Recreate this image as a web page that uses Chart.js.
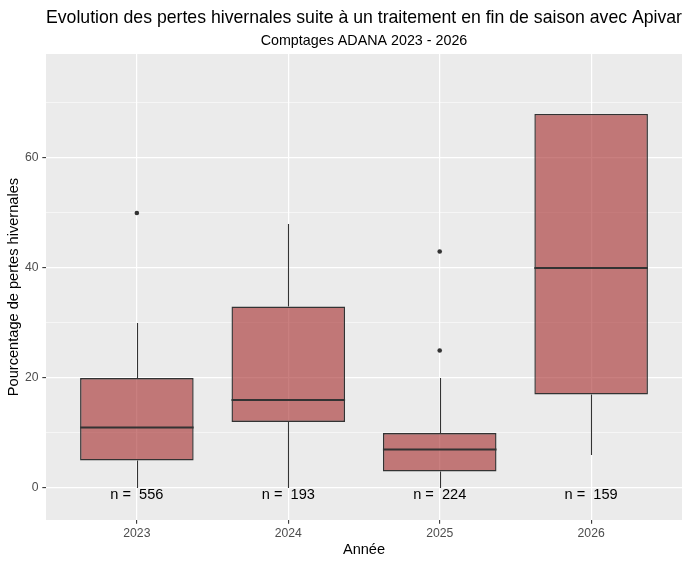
<!DOCTYPE html>
<html>
<head>
<meta charset="utf-8">
<script src="https://cdn.jsdelivr.net/npm/chart.js@4.4.1/dist/chart.umd.min.js"></script>
<style>
  html, body { margin: 0; padding: 0; background: #fff; }
</style>
</head>
<body>
<canvas id="boxChart" width="690" height="565"></canvas>
<script>
// values
const years = ['2023', '2024', '2025', '2026'];
const q1 = [5, 12, 3, 17];
const q3 = [20, 33, 10, 68];
const medians = [11, 16, 7, 40];
const whiskerLow = [0, 0, 0, 6];
const whiskerHigh = [30, 48, 20, 68];
const outlierYear = [0, 2, 2];
const outlierValue = [50, 25, 43];
const counts = [556, 193, 224, 159];
const countLabelY = -1.3;
const yTicks = [0, 20, 40, 60];

const FONT = '"Liberation Sans", Arial, sans-serif';
const DARK = '#333333';

const panelBg = {
  id: 'panelBg',
  beforeDraw(chart) {
    const { ctx, chartArea: a } = chart;
    ctx.save();
    ctx.fillStyle = '#EBEBEB';
    ctx.fillRect(a.left, a.top, a.right - a.left, a.bottom - a.top);
    ctx.restore();
  }
};

const boxParts = {
  id: 'boxParts',
  beforeDatasetsDraw(chart) {
    const { ctx, scales: { x, y } } = chart;
    ctx.save();
    ctx.strokeStyle = DARK;
    ctx.lineWidth = 1.1;
    years.forEach((_, i) => {
      const px = Math.round(x.getPixelForValue(i)) + 0.5;
      ctx.beginPath();
      ctx.moveTo(px, y.getPixelForValue(whiskerLow[i]));
      ctx.lineTo(px, y.getPixelForValue(q1[i]));
      ctx.moveTo(px, y.getPixelForValue(q3[i]));
      ctx.lineTo(px, y.getPixelForValue(whiskerHigh[i]));
      ctx.stroke();
    });
    ctx.restore();
  },
  afterDatasetsDraw(chart) {
    const { ctx, scales: { x, y } } = chart;
    const bars = chart.getDatasetMeta(0).data;
    ctx.save();
    ctx.strokeStyle = DARK;
    ctx.lineWidth = 2.2;
    bars.forEach((bar, i) => {
      const py = y.getPixelForValue(medians[i]);
      ctx.beginPath();
      ctx.moveTo(bar.x - bar.width / 2, py);
      ctx.lineTo(bar.x + bar.width / 2, py);
      ctx.stroke();
    });
    ctx.fillStyle = '#000';
    ctx.font = '14.6px ' + FONT;
    ctx.textAlign = 'center';
    ctx.textBaseline = 'middle';
    counts.forEach((n, i) => {
      ctx.fillText('n =  ' + n, x.getPixelForValue(i), y.getPixelForValue(countLabelY));
    });
    ctx.restore();
  }
};

new Chart(document.getElementById('boxChart'), {
  type: 'bar',
  data: {
    datasets: [
      {
        label: 'boxes',
        data: years.map((_, i) => ({ x: i, y: [q1[i], q3[i]] })),
        backgroundColor: 'rgba(165, 42, 42, 0.6)',
        borderColor: DARK,
        borderWidth: 1.4,
        borderSkipped: false,
        barPercentage: 0.75,
        categoryPercentage: 1
      },
      {
        type: 'line',
        label: 'outliers',
        data: outlierYear.map((c, i) => ({ x: c, y: outlierValue[i] })),
        showLine: false,
        pointRadius: 2.3,
        pointBorderWidth: 0,
        pointBackgroundColor: DARK
      }
    ]
  },
  options: {
    responsive: false,
    animation: false,
    events: [],
    layout: { padding: { left: 0, right: 8, top: 0, bottom: 0 } },
    plugins: {
      legend: { display: false },
      tooltip: { enabled: false },
      title: {
        display: true,
        fullSize: false,
        text: 'Evolution des pertes hivernales suite à un traitement en fin de saison avec Apivar',
        color: '#000',
        font: { family: FONT, size: 17.8, weight: 'normal' },
        padding: { top: 7.5, bottom: 0 }
      },
      subtitle: {
        display: true,
        fullSize: false,
        text: 'Comptages ADANA 2023 - 2026',
        color: '#000',
        font: { family: FONT, size: 14.3 },
        padding: { top: 3.3, bottom: 4.7 }
      }
    },
    scales: {
      x: {
        type: 'linear',
        min: -0.6,
        max: 3.6,
        offset: false,
        border: { display: false },
        grid: {
          offset: false,
          color: '#FFFFFF',
          lineWidth: 1.2,
          tickLength: 3.7,
          tickColor: DARK,
          tickWidth: 1.07
        },
        ticks: {
          stepSize: 1,
          includeBounds: false,
          autoSkip: false,
          maxRotation: 0,
          padding: 3,
          color: '#4D4D4D',
          font: { family: FONT, size: 12.2 },
          callback: v => years[v] ?? ''
        },
        title: {
          display: true,
          text: 'Année',
          color: '#000',
          font: { family: FONT, size: 14.6 },
          padding: { top: 0, bottom: 6.2 }
        },
        afterFit: s => { s.height = 45; }
      },
      y: {
        min: -5.82,
        max: 78.9,
        border: { display: false },
        grid: {
          color: '#FFFFFF',
          lineWidth: c => (yTicks.includes(c.tick.value) ? 1.2 : 0.55),
          tickLength: 3.7,
          tickColor: c => (yTicks.includes(c.tick.value) ? DARK : 'rgba(0,0,0,0)'),
          tickWidth: 1.07
        },
        ticks: {
          stepSize: 10,
          includeBounds: false,
          padding: 3.8,
          color: '#4D4D4D',
          font: { family: FONT, size: 12.2 },
          callback: v => (yTicks.includes(v) ? String(v) : '')
        },
        title: {
          display: true,
          text: 'Pourcentage de pertes hivernales',
          color: '#000',
          font: { family: FONT, size: 14.6 },
          padding: { top: 5, bottom: 0 }
        },
        afterFit: s => { s.width = 46; }
      }
    }
  },
  plugins: [panelBg, boxParts]
});
</script>
</body>
</html>
